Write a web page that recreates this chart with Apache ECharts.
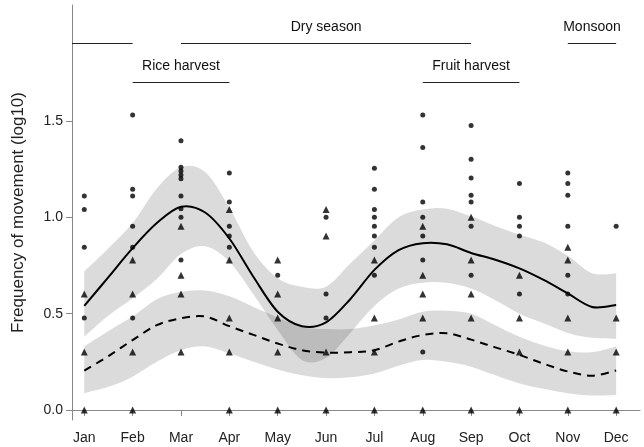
<!DOCTYPE html>
<html><head><meta charset="utf-8">
<script src="https://cdn.jsdelivr.net/npm/echarts@6/dist/echarts.min.js"></script>
<style>html,body{margin:0;padding:0;background:#fff}#c{width:644px;height:447px}</style>
</head><body><div id="c"></div>
<script>
// ---- data ----
const months = ['Jan','Feb','Mar','Apr','May','Jun','Jul','Aug','Sep','Oct','Nov','Dec'];
const monthPos = [1,2,3,4,5,6,7,8,9,10,11,12];
const yTicks = [0, 0.5, 1.0, 1.5];

// circles (per month)
const dotValues = [
  [1.11, 1.04, 0.845, 0.477],
  [1.531, 1.146, 1.11, 0.954, 0.845, 0.477],
  [1.398, 1.26, 1.24, 1.22, 1.2, 1.11, 1.045, 1.0, 0.778],
  [1.23, 1.08, 0.954, 0.903, 0.845],
  [0.699],
  [1.0, 0.602, 0.477],
  [1.255, 1.146, 1.041, 1.0, 0.954, 0.903, 0.845, 0.699],
  [1.531, 1.362, 1.079, 1.0, 0.903, 0.778, 0.301],
  [1.477, 1.301, 1.204, 1.114, 1.079, 0.954, 0.699],
  [1.176, 1.0, 0.954, 0.903, 0.602],
  [1.23, 1.176, 1.114, 0.954, 0.699, 0.602],
  [0.954]
];
// triangles (per month)
const triValues = [
  [0.602, 0.301, 0],
  [0.778, 0.602, 0.301, 0],
  [0.954, 0.699, 0.602, 0.301],
  [1.041, 0.778, 0.477, 0.301, 0],
  [0.778, 0.602, 0.477, 0.301, 0],
  [1.041, 0.903, 0.301, 0],
  [0.778, 0.477, 0.301, 0],
  [0.954, 0.699, 0.602, 0.477, 0],
  [1.0, 0.778, 0.602, 0.477, 0],
  [0.699, 0.477, 0.301, 0],
  [0.845, 0.778, 0.477, 0.301, 0],
  [0.477, 0.301, 0]
];

// fitted curves, read at half-month steps
const curveX = [1,1.5,2,2.5,3,3.5,4,4.5,5,5.5,6,6.5,7,7.5,8,8.5,9,9.5,10,10.5,11,11.5,12];
const solidMean = [0.54,0.69,0.84,0.97,1.055,1.025,0.89,0.69,0.51,0.435,0.455,0.575,0.727,0.83,0.866,0.86,0.815,0.78,0.735,0.675,0.605,0.535,0.545];
const solidHi   = [0.72,0.84,0.97,1.15,1.26,1.235,1.05,0.82,0.684,0.64,0.64,0.76,0.88,1.0,1.04,1.045,1.005,0.955,0.91,0.87,0.80,0.71,0.71];
const solidLo   = [0.38,0.49,0.58,0.68,0.81,0.85,0.77,0.6,0.415,0.26,0.27,0.40,0.54,0.63,0.66,0.66,0.63,0.57,0.50,0.45,0.40,0.375,0.37];
const dashMean  = [0.204,0.28,0.363,0.44,0.476,0.485,0.435,0.39,0.345,0.31,0.298,0.30,0.31,0.355,0.389,0.398,0.365,0.325,0.286,0.24,0.20,0.178,0.205];
const dashHi    = [0.33,0.41,0.485,0.575,0.614,0.62,0.59,0.535,0.48,0.43,0.42,0.42,0.44,0.47,0.51,0.515,0.50,0.44,0.38,0.335,0.305,0.30,0.33];
const dashLo    = [0.087,0.12,0.173,0.25,0.31,0.33,0.294,0.25,0.21,0.18,0.165,0.17,0.19,0.23,0.26,0.25,0.225,0.18,0.138,0.11,0.087,0.075,0.078];

// season / harvest periods (months)
const periodLabels = ['', 'Dry season', 'Monsoon', 'Rice harvest', 'Fruit harvest'];
const periodFrom   = [null, 3, 11, 2, 8];
const periodTo     = [2, 9, 12, 4, 10];
const periodRow    = [0, 0, 0, 1, 1];

// ---- layout constants ----
const X_MIN = 0.746, X_MAX = 12.493, Y_MIN = -0.052, Y_MAX = 2.102;
const ROW_Y = [1.905, 1.703];
const FONT = '"Liberation Sans", Arial, sans-serif';

function spline(pts, first) {
  let d = (first ? 'M' : 'L') + pts[0][0] + ',' + pts[0][1];
  for (let i = 0; i < pts.length - 1; i++) {
    const p0 = pts[i - 1] || pts[i], p1 = pts[i], p2 = pts[i + 1], p3 = pts[i + 2] || p2;
    const c1 = [p1[0] + (p2[0] - p0[0]) / 6, p1[1] + (p2[1] - p0[1]) / 6];
    const c2 = [p2[0] - (p3[0] - p1[0]) / 6, p2[1] - (p3[1] - p1[1]) / 6];
    d += 'C' + c1[0] + ',' + c1[1] + ' ' + c2[0] + ',' + c2[1] + ' ' + p2[0] + ',' + p2[1];
  }
  return d;
}
function bandSeries(lo, hi) {
  return {
    type: 'custom', silent: true, z: 1,
    data: curveX.map((x, i) => [x, lo[i], hi[i]]),
    encode: { x: 0, y: [1, 2] },
    renderItem: (params, api) => {
      if (params.dataIndex !== 0) return null;
      const top = curveX.map((x, i) => api.coord([x, hi[i]]));
      const bot = curveX.map((x, i) => api.coord([x, lo[i]])).reverse();
      return { type: 'path', shape: { pathData: spline(top, true) + spline(bot, false) + 'Z' },
               style: { fill: 'rgba(0,0,0,0.14)' } };
    }
  };
}
function curveSeries(vals, dash) {
  return {
    type: 'custom', silent: true, z: 3,
    data: curveX.map((x, i) => [x, vals[i]]),
    encode: { x: 0, y: 1 },
    renderItem: (params, api) => {
      if (params.dataIndex !== 0) return null;
      const pts = curveX.map((x, i) => api.coord([x, vals[i]]));
      return { type: 'path', shape: { pathData: spline(pts, true) },
               style: { fill: null, stroke: '#000', lineWidth: 2, lineDash: dash || null } };
    }
  };
}
function flat(arr) { return arr.flatMap((vals, m) => vals.map(v => [monthPos[m], v])); }

const chart = echarts.init(document.getElementById('c'), null, { renderer: 'canvas' });
chart.setOption({
  animation: false,
  backgroundColor: '#fff',
  grid: { left: 72, right: 4, top: 5, bottom: 27, outerBoundsMode: 'none', containLabel: false },
  xAxis: {
    type: 'value', min: X_MIN, max: X_MAX,
    axisLine: { show: true, lineStyle: { color: '#888', width: 1 } },
    axisTick: { show: true, length: 6, lineStyle: { color: '#888' }, customValues: monthPos },
    axisLabel: { customValues: monthPos, formatter: v => months[Math.round(v) - 1], color: '#222', fontSize: 14, fontFamily: FONT, margin: 11 },
    splitLine: { show: false }
  },
  yAxis: {
    type: 'value', min: Y_MIN, max: Y_MAX,
    name: 'Frequency of movement (log10)', nameLocation: 'middle', nameGap: 45, nameMoveOverlap: false,
    nameTextStyle: { fontSize: 17, color: '#222', fontFamily: FONT },
    axisLine: { show: true, lineStyle: { color: '#888', width: 1 } },
    axisTick: { show: true, length: 6, lineStyle: { color: '#888' }, customValues: yTicks },
    axisLabel: { customValues: yTicks, formatter: v => v.toFixed(1), color: '#222', fontSize: 14, fontFamily: FONT, margin: 9 },
    splitLine: { show: false }
  },
  series: [
    bandSeries(solidLo, solidHi),
    bandSeries(dashLo, dashHi),
    curveSeries(solidMean, null),
    curveSeries(dashMean, [8, 6]),
    {
      type: 'scatter', z: 4, symbol: 'circle', symbolSize: 5,
      itemStyle: { color: '#000' }, data: flat(dotValues),
      markLine: {
        silent: true, symbol: ['none', 'none'], animation: false,
        lineStyle: { color: '#222', width: 1, type: 'solid' },
        label: { show: true, position: 'insideMiddleTop', distance: 9, color: '#111', fontSize: 14, fontFamily: FONT, formatter: p => p.name },
        data: periodLabels.map((lab, i) => [
          { name: lab, coord: [periodFrom[i] === null ? X_MIN : periodFrom[i], ROW_Y[periodRow[i]]] },
          { coord: [periodTo[i], ROW_Y[periodRow[i]]] }
        ])
      }
    },
    {
      type: 'scatter', z: 4, symbol: 'triangle', symbolSize: 7,
      itemStyle: { color: '#000' }, data: flat(triValues)
    }
  ]
});
</script></body></html>
